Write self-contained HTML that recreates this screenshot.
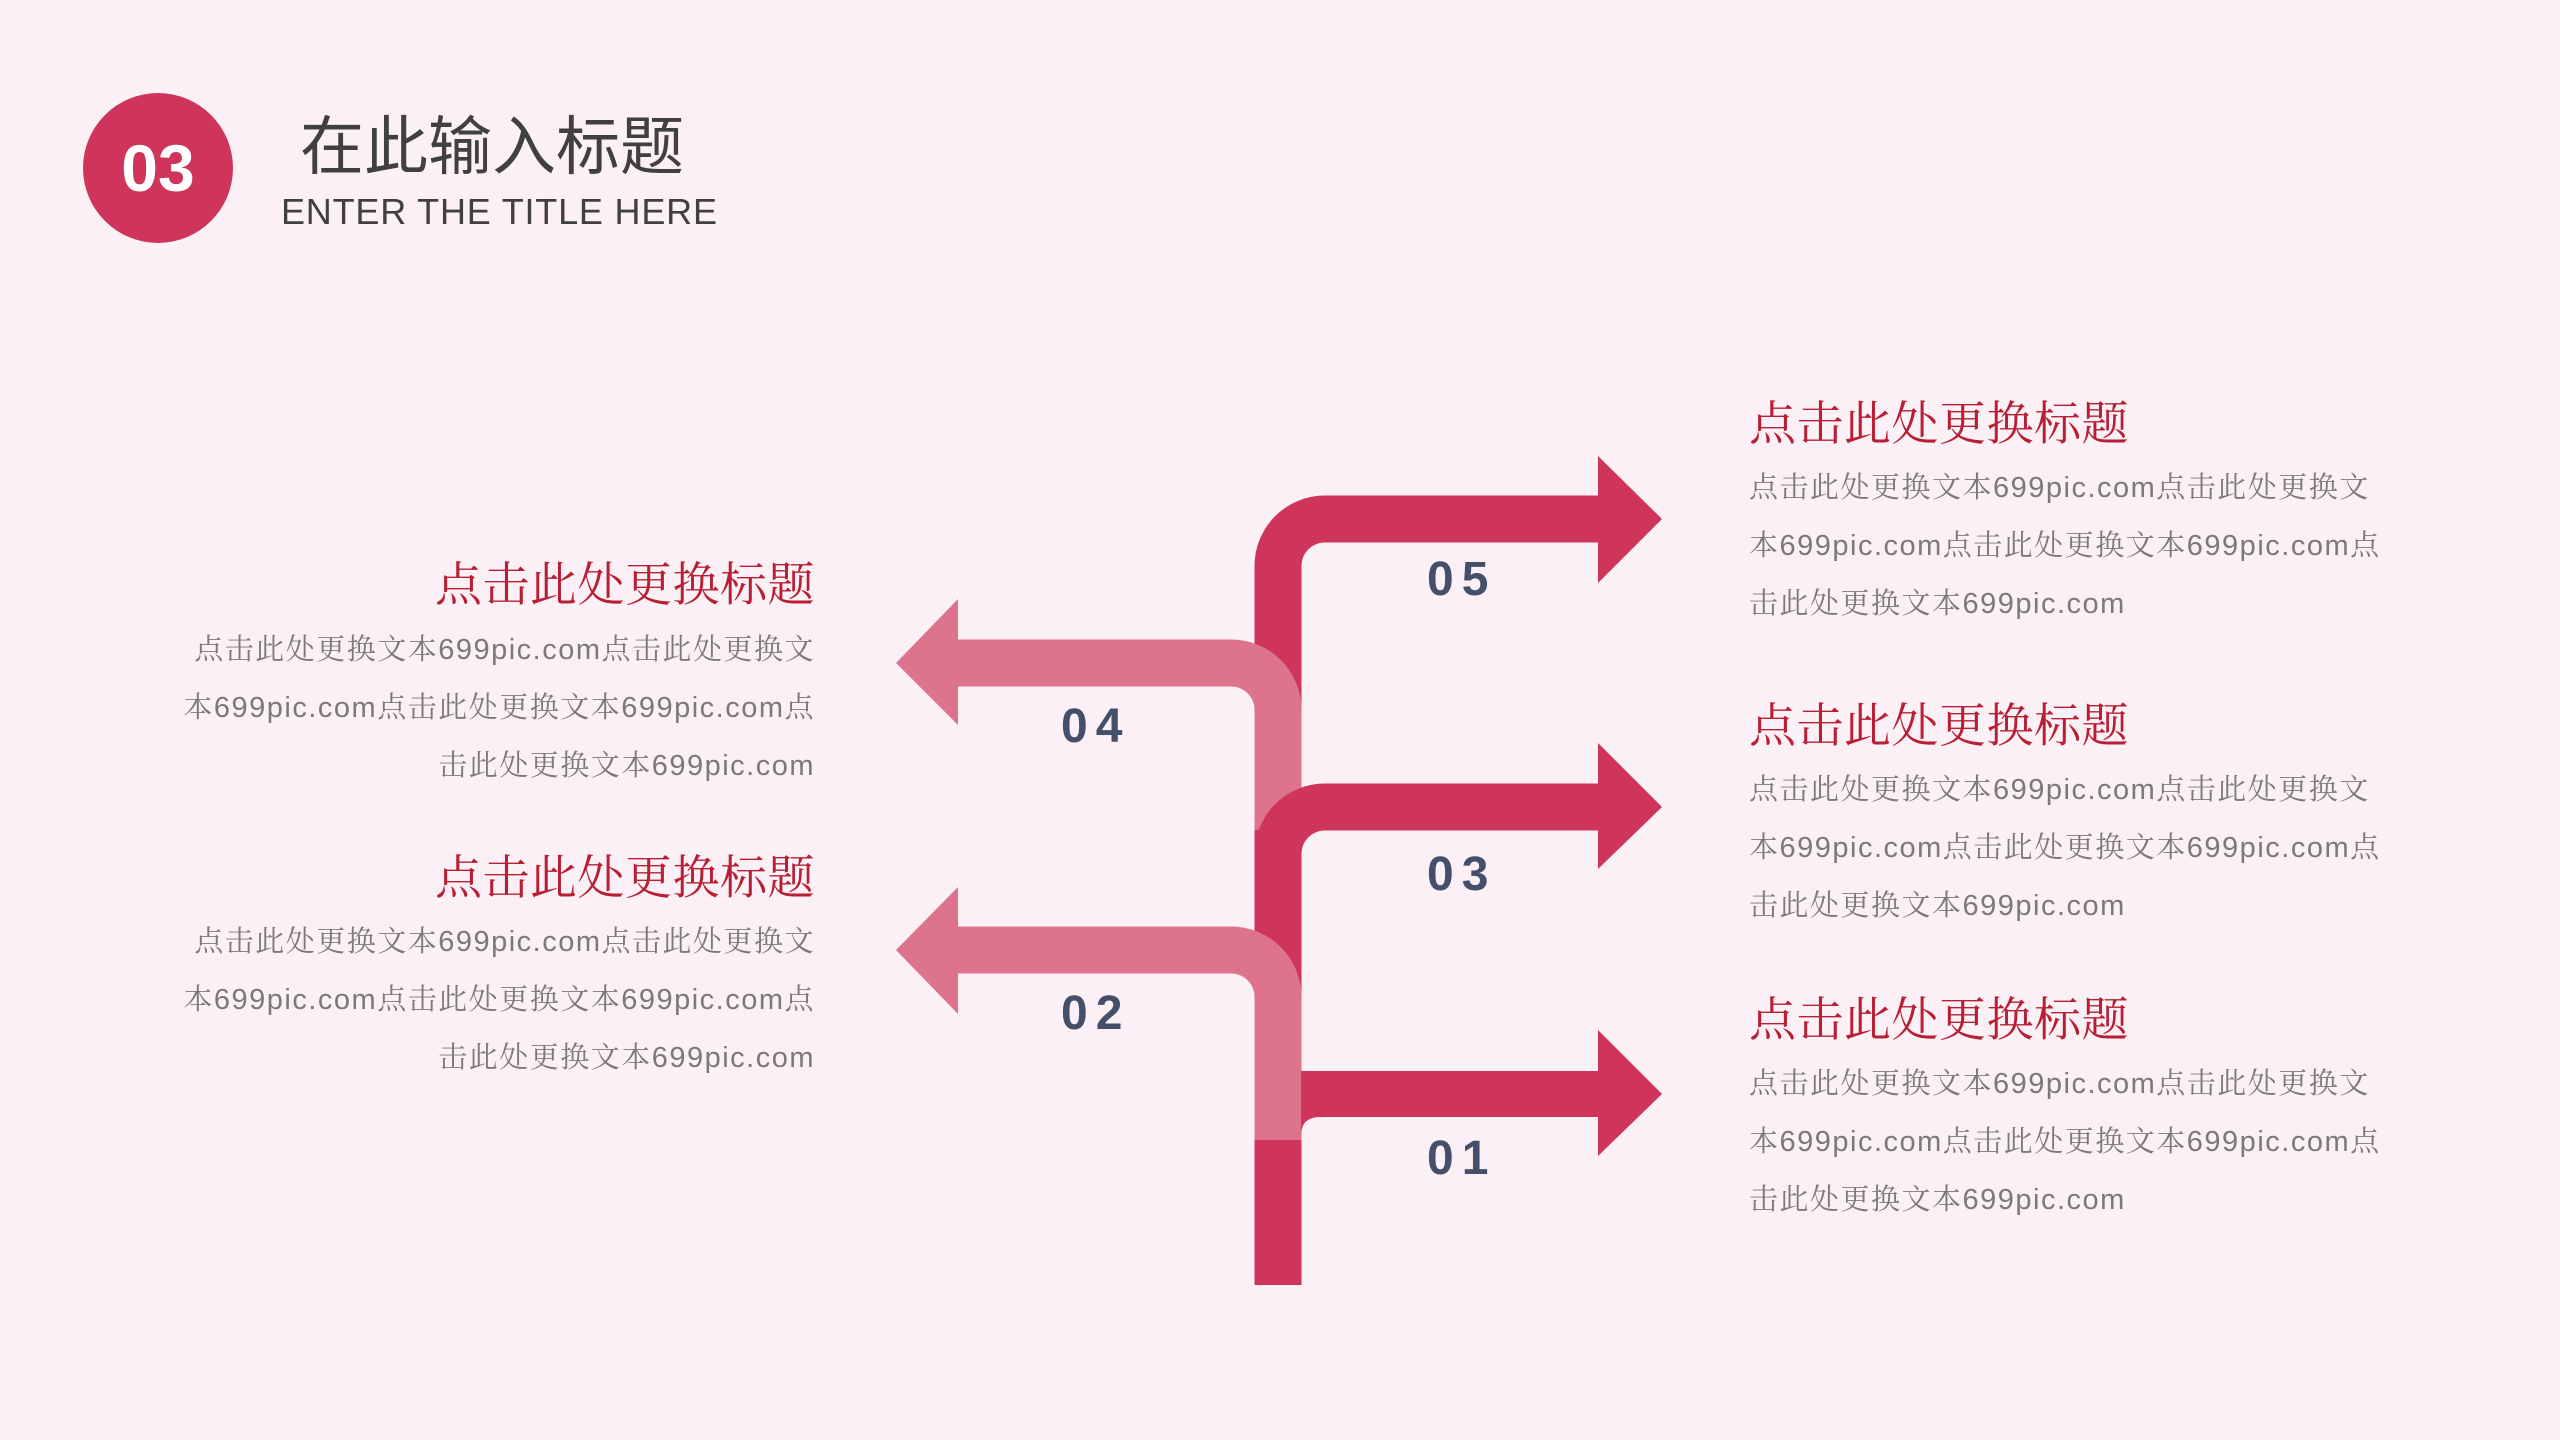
<!DOCTYPE html>
<html><head><meta charset="utf-8"><style>
body{margin:0;width:2560px;height:1440px;background:#fbf0f5;position:relative;overflow:hidden;font-family:"Liberation Sans","Noto Sans CJK SC",sans-serif}
.a{position:absolute;white-space:nowrap}
.h{font-family:"Liberation Serif","Noto Serif CJK SC",serif;font-size:47px;color:#b81f35;line-height:60px;letter-spacing:0.5px}
.b{font-family:"Liberation Sans","Noto Serif CJK SC",serif;font-size:29px;color:#7a7a7a;line-height:58px;letter-spacing:1.5px}
.r{text-align:right}
.n{font-weight:bold;font-size:48px;color:#44506a;letter-spacing:8px;line-height:60px}
</style></head><body>
<div class="a" style="left:83px;top:93px;width:150px;height:150px;border-radius:50%;background:#cf355a"></div>
<div class="a" style="left:83px;top:128px;width:150px;text-align:center;color:#fff;font-weight:bold;font-size:66px;line-height:80px">03</div>
<div class="a" style="left:300px;top:107px;font-size:64px;line-height:80px;color:#404040">在此输入标题</div>
<div class="a" style="left:281px;top:190px;font-size:36px;line-height:44px;color:#404040;letter-spacing:0.8px">ENTER THE TITLE HERE</div>

<svg class="a" style="left:0;top:0" width="2560" height="1440">
<g fill="none" stroke-width="47">
<path d="M1278,1285 V566 A47,47 0 0 1 1325,519 H1605" stroke="#cf355a"/>
<path d="M955,663 H1231 A47,47 0 0 1 1278,710 V830" stroke="#dd738d"/>
<path d="M1278,1140 V854 A47,47 0 0 1 1325,807 H1605" stroke="#cf355a"/>
<path d="M955,950 H1231 A47,47 0 0 1 1278,997 V1140" stroke="#dd738d"/>
<path d="M1278,1140 V1285" stroke="#cf355a"/>
</g>
<path d="M1301,1071 H1605 V1117 H1320 Q1301,1117 1301,1136 Z" fill="#cf355a"/>
<polygon points="1598,456 1662,519 1598,583" fill="#cf355a"/>
<polygon points="1598,743 1662,807 1598,869" fill="#cf355a"/>
<polygon points="1598,1030 1662,1094 1598,1156" fill="#cf355a"/>
<polygon points="958,599 896,663 958,725" fill="#dd738d"/>
<polygon points="958,887 896,950 958,1014" fill="#dd738d"/>
</svg>

<div class="a n" style="left:1427px;top:550px">05</div>
<div class="a n" style="left:1061px;top:697px">04</div>
<div class="a n" style="left:1427px;top:845px">03</div>
<div class="a n" style="left:1061px;top:984px">02</div>
<div class="a n" style="left:1427px;top:1129px">01</div>

<div class="a h" style="left:1749px;top:395px">点击此处更换标题</div>
<div class="a b" style="left:1749px;top:459px">点击此处更换文本699pic.com点击此处更换文<br>本699pic.com点击此处更换文本699pic.com点<br>击此处更换文本699pic.com</div>
<div class="a h" style="left:1749px;top:697px">点击此处更换标题</div>
<div class="a b" style="left:1749px;top:761px">点击此处更换文本699pic.com点击此处更换文<br>本699pic.com点击此处更换文本699pic.com点<br>击此处更换文本699pic.com</div>
<div class="a h" style="left:1749px;top:991px">点击此处更换标题</div>
<div class="a b" style="left:1749px;top:1055px">点击此处更换文本699pic.com点击此处更换文<br>本699pic.com点击此处更换文本699pic.com点<br>击此处更换文本699pic.com</div>

<div class="a h r" style="right:1745px;top:556px">点击此处更换标题</div>
<div class="a b r" style="right:1745px;top:621px">点击此处更换文本699pic.com点击此处更换文<br>本699pic.com点击此处更换文本699pic.com点<br>击此处更换文本699pic.com</div>
<div class="a h r" style="right:1745px;top:849px">点击此处更换标题</div>
<div class="a b r" style="right:1745px;top:913px">点击此处更换文本699pic.com点击此处更换文<br>本699pic.com点击此处更换文本699pic.com点<br>击此处更换文本699pic.com</div>
</body></html>
